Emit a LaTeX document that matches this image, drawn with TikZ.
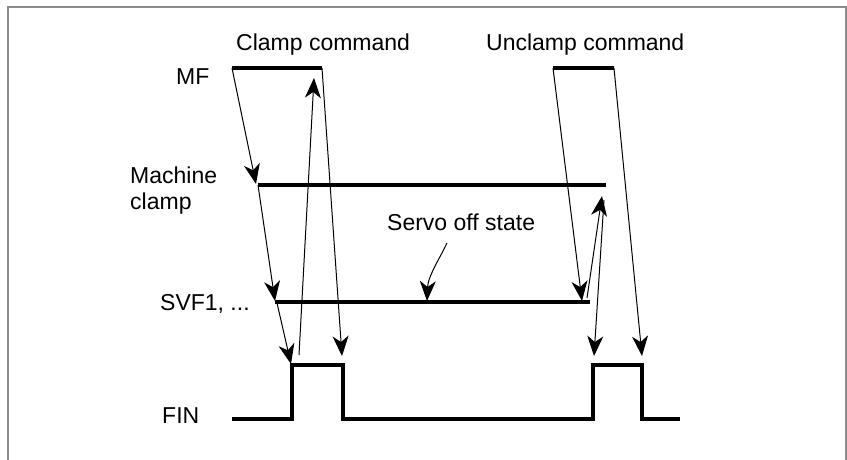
\documentclass[tikz,border=0pt]{standalone}
\usepackage{fontspec}
\setmainfont{Liberation Sans}
\usetikzlibrary{arrows.meta}
\begin{document}
\begin{tikzpicture}[x=1pt,y=-1pt,
  sig/.style={line width=3.2pt},
  frame/.style={draw=black!45,line width=2pt},
  conn/.style={line width=1pt,-{Stealth[length=20pt,width=16pt,inset=6pt]}},
  lbl/.style={anchor=base west,inner sep=0pt,font=\fontsize{23}{26}\selectfont}]
\useasboundingbox (0,0) rectangle (847,459);
\draw[frame] (8,470) -- (8,7) -- (846,7) -- (846,470);
% labels
\node[lbl] (tclamp) at (236,50) {Clamp command};
\node[lbl] (tunclamp) at (486,50) {Unclamp command};
\node[lbl] (tmf) at (176,84) {MF};
\node[lbl] (tmc1) at (130,183) {Machine};
\node[lbl] (tmc2) at (130,209) {clamp};
\node[lbl] (tsvf) at (160,310) {SVF1, ...};
\node[lbl] (tfin) at (162,423) {FIN};
\node[lbl] (tservo) at (387,230) {Servo off state};
% coordinates
\coordinate (mfa) at (232,68); \coordinate (mfb) at (322,68);
\coordinate (mfc) at (553,68); \coordinate (mfd) at (614,68);
\coordinate (mca) at (258,185); \coordinate (mcb) at (606,185);
\coordinate (sva) at (275,302); \coordinate (svb) at (590,302);
\coordinate (f0) at (232,419); \coordinate (f1) at (292,419); \coordinate (f2) at (292,365);
\coordinate (f3) at (343,365); \coordinate (f4) at (343,419); \coordinate (f5) at (593,419);
\coordinate (f6) at (593,365); \coordinate (f7) at (642,365); \coordinate (f8) at (642,419);
\coordinate (f9) at (680,419);
% signals
\draw[sig] (mfa) -- (mfb);
\draw[sig] (mfc) -- (mfd);
\draw[sig] (mca) -- (mcb);
\draw[sig] (sva) -- (svb);
\draw[sig,line join=miter] (f0) -- (f1) -- (f2) -- (f3) -- (f4) -- (f5) -- (f6) -- (f7) -- (f8) -- (f9);
% arrow end points
\coordinate (a1) at (256,184); \coordinate (b2) at (275,301);
\coordinate (b3) at (291,364); \coordinate (s3) at (277,303);
\coordinate (s4) at (299,355); \coordinate (a4) at (314,78);
\coordinate (a5) at (342,356);
\coordinate (a6) at (582,301);
\coordinate (a7) at (642,356);
\coordinate (s8) at (587,298); \coordinate (a8) at (602,196);
\coordinate (s9) at (604,200); \coordinate (a9) at (594,356);
\coordinate (cs) at (447,243); \coordinate (ce) at (427,301);
% connectors
\draw[conn] (mfa) -- (a1);
\draw[conn] (mca) -- (b2);
\draw[conn] (s3) -- (b3);
\draw[conn] (s4) -- (a4);
\draw[conn] (mfb) -- (a5);
\draw[conn] (mfc) -- (a6);
\draw[conn] (mfd) -- (a7);
\draw[conn] (s8) -- (a8);
\draw[conn] (s9) -- (a9);
\draw[conn] (cs) .. controls (440,258) and (428,276) .. (ce);
\end{tikzpicture}
\end{document}
